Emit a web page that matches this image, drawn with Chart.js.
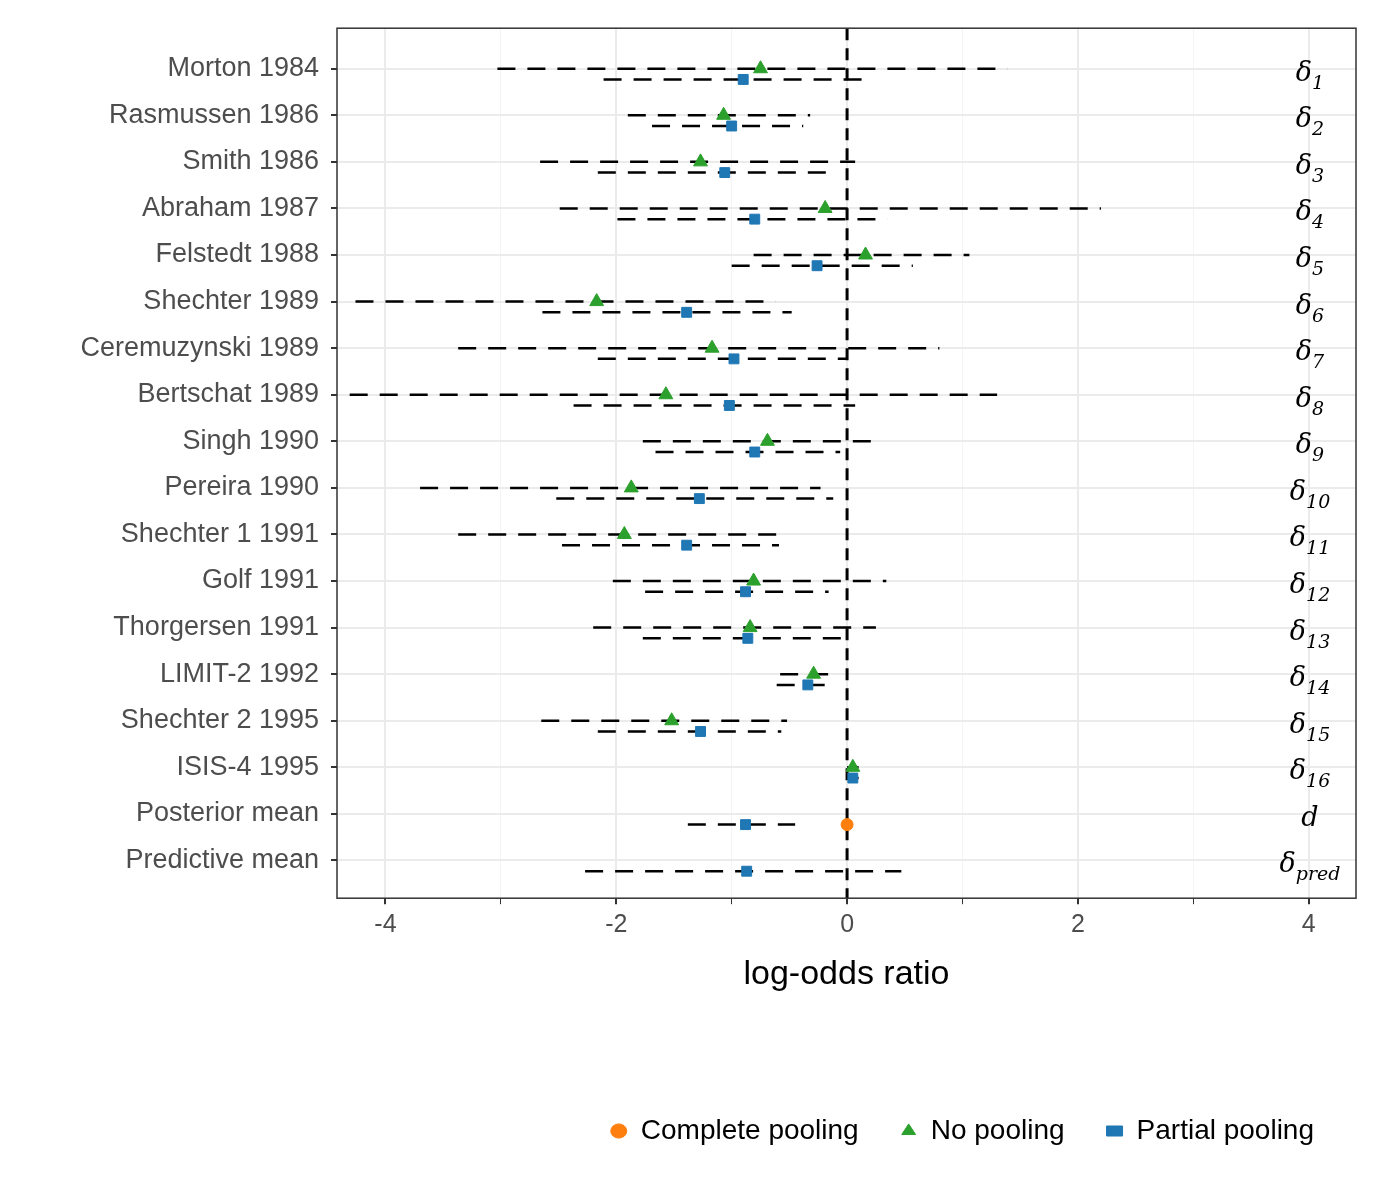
<!DOCTYPE html>
<html>
<head>
<meta charset="utf-8">
<style>
  body { margin: 0; background: #fff; }
</style>
<script src="https://cdn.jsdelivr.net/npm/chart.js@4"></script>
</head>
<body>
<canvas id="canvas" width="1380" height="1200"></canvas>
<script>
'use strict';

const studies = ['Morton 1984', 'Rasmussen 1986', 'Smith 1986', 'Abraham 1987', 'Felstedt 1988', 'Shechter 1989', 'Ceremuzynski 1989', 'Bertschat 1989', 'Singh 1990', 'Pereira 1990', 'Shechter 1 1991', 'Golf 1991', 'Thorgersen 1991', 'LIMIT-2 1992', 'Shechter 2 1995', 'ISIS-4 1995', 'Posterior mean', 'Predictive mean'];
const paramBase = ['δ', 'δ', 'δ', 'δ', 'δ', 'δ', 'δ', 'δ', 'δ', 'δ', 'δ', 'δ', 'δ', 'δ', 'δ', 'δ', 'd', 'δ'];
const paramSub = ['1', '2', '3', '4', '5', '6', '7', '8', '9', '10', '11', '12', '13', '14', '15', '16', '', 'pred'];

// no pooling (null where not shown)
const noPool = [-0.75, -1.07, -1.27, -0.19, 0.16, -2.17, -1.17, -1.57, -0.69, -1.87, -1.93, -0.81, -0.84, -0.29, -1.52, 0.05, null, null];
const noPoolLo = [-3.03, -1.90, -2.66, -2.49, -0.81, -4.26, -3.37, -4.31, -1.77, -3.70, -3.37, -2.03, -2.20, -0.58, -2.65, 0.00, null, null];
const noPoolHi = [1.39, -0.32, 0.07, 2.20, 1.06, -0.62, 0.80, 1.30, 0.26, -0.23, -0.61, 0.34, 0.25, -0.15, -0.52, 0.10, null, null];

// partial pooling
const partPool = [-0.90, -1.00, -1.06, -0.80, -0.26, -1.39, -0.98, -1.02, -0.80, -1.28, -1.39, -0.88, -0.86, -0.34, -1.27, 0.05, -0.88, -0.87];
const partPoolLo = [-2.11, -1.69, -2.16, -1.99, -1.00, -2.64, -2.16, -2.37, -1.66, -2.52, -2.47, -1.75, -1.77, -0.61, -2.16, 0.00, -1.38, -2.27];
const partPoolHi = [0.20, -0.38, -0.15, 0.35, 0.57, -0.48, 0.00, 0.07, -0.06, -0.12, -0.59, -0.16, 0.00, -0.13, -0.57, 0.10, -0.45, 0.47];

// complete pooling
const completePool = 0;
const completeRow = 17;

const partOffset = 0.23;

const noPoolData = [];
const partPoolData = [];
for (let i = 0; i < studies.length; i++) {
  if (noPool[i] !== null) noPoolData.push({x: noPool[i], y: i + 1});
  partPoolData.push({x: partPool[i], y: i + 1 + partOffset});
}

const extras = {
  id: 'extras',
  beforeDatasetsDraw(chart) {
    const ctx = chart.ctx;
    const xs = chart.scales.x;
    const ys = chart.scales.y;
    const area = chart.chartArea;
    ctx.save();
    ctx.strokeStyle = '#000';
    ctx.lineWidth = 2.5;
    ctx.setLineDash([18, 12]);
    for (let i = 0; i < studies.length; i++) {
      if (noPoolLo[i] !== null) {
        const y = ys.getPixelForValue(i + 1);
        ctx.beginPath();
        ctx.moveTo(xs.getPixelForValue(noPoolLo[i]), y);
        ctx.lineTo(xs.getPixelForValue(noPoolHi[i]), y);
        ctx.stroke();
      }
      const y2 = ys.getPixelForValue(i + 1 + partOffset);
      ctx.beginPath();
      ctx.moveTo(xs.getPixelForValue(partPoolLo[i]), y2);
      ctx.lineTo(xs.getPixelForValue(partPoolHi[i]), y2);
      ctx.stroke();
    }
    // zero line
    ctx.lineWidth = 3;
    ctx.setLineDash([12, 8]);
    const x0 = xs.getPixelForValue(0);
    ctx.beginPath();
    ctx.moveTo(x0, area.top);
    ctx.lineTo(x0, area.bottom);
    ctx.stroke();
    ctx.setLineDash([]);
    // parameter labels
    ctx.fillStyle = '#000';
    ctx.textBaseline = 'middle';
    for (let i = 0; i < studies.length; i++) {
      const y = ys.getPixelForValue(i + 1.15);
      ctx.font = 'italic 27px "DejaVu Serif"';
      const bw = ctx.measureText(paramBase[i]).width;
      ctx.font = 'italic 19px "DejaVu Serif"';
      const sw = paramSub[i] ? ctx.measureText(paramSub[i]).width : 0;
      const cx = 1310;
      const left = cx - (bw + sw) / 2;
      ctx.font = 'italic 27px "DejaVu Serif"';
      ctx.fillText(paramBase[i], left, y - 2);
      if (paramSub[i]) {
        ctx.font = 'italic 19px "DejaVu Serif"';
        ctx.fillText(paramSub[i], left + bw, y + 8);
      }
    }
    ctx.restore();
  },
  afterDraw(chart) {
    const ctx = chart.ctx;
    const area = chart.chartArea;
    ctx.save();
    ctx.strokeStyle = '#333';
    ctx.lineWidth = 1.5;
    ctx.strokeRect(area.left, area.top, area.right - area.left, area.bottom - area.top);
    ctx.restore();
  }
};

const ctx = document.getElementById('canvas').getContext('2d');
new Chart(ctx, {
  type: 'scatter',
  data: {
    datasets: [
      {
        label: 'Complete pooling',
        data: [{x: completePool, y: completeRow + partOffset}],
        backgroundColor: '#ff7f0e',
        borderColor: '#ff7f0e',
        pointStyle: 'circle',
        pointRadius: 6
      },
      {
        label: 'No pooling',
        data: noPoolData,
        backgroundColor: '#2ca02c',
        borderColor: '#2ca02c',
        pointStyle: 'triangle',
        pointRadius: 8
      },
      {
        label: 'Partial pooling',
        data: partPoolData,
        backgroundColor: '#1f77b4',
        borderColor: '#1f77b4',
        pointStyle: 'rect',
        pointRadius: 7
      }
    ]
  },
  options: {
    responsive: false,
    devicePixelRatio: 1,
    animation: false,
    layout: {padding: {top: 22, right: 24, left: 10, bottom: 45}},
    scales: {
      x: {
        type: 'linear',
        min: -4.42,
        max: 4.41,
        afterBuildTicks(axis) {
          axis.ticks = [-4, -3, -2, -1, 0, 1, 2, 3, 4].map(v => ({value: v}));
        },
        ticks: {
          color: '#4d4d4d',
          font: {family: 'Liberation Sans', size: 25},
          padding: 6,
          callback: v => (v % 2 === 0 ? String(v) : '')
        },
        grid: {
          color: c => (c.tick && c.tick.value % 2 === 0 ? '#ebebeb' : '#f4f4f4'),
          lineWidth: c => (c.tick && c.tick.value % 2 === 0 ? 2 : 1),
          tickColor: '#333',
          tickLength: 6
        },
        border: {display: false},
        title: {
          display: true,
          text: 'log-odds ratio',
          color: '#000',
          font: {family: 'Liberation Sans', size: 34},
          padding: {top: 8, bottom: 80}
        }
      },
      y: {
        type: 'linear',
        reverse: true,
        min: 0.13,
        max: 18.81,
        afterBuildTicks(axis) {
          const t = [];
          for (let i = 1; i <= studies.length; i++) t.push({value: i});
          axis.ticks = t;
        },
        afterFit(axis) { axis.width = 337 - 10; },
        ticks: {
          color: '#4d4d4d',
          font: {family: 'Liberation Sans', size: 27},
          padding: 12,
          callback: v => studies[v - 1] || ''
        },
        grid: {color: '#ebebeb', lineWidth: 2, tickColor: '#333', tickLength: 6},
        border: {display: false}
      }
    },
    plugins: {
      legend: {
        position: 'bottom',
        align: 'end',
        labels: {
          usePointStyle: true,
          pointStyleWidth: 16,
          boxHeight: 10,
          padding: 42,
          color: '#000',
          font: {family: 'Liberation Sans', size: 28}
        }
      },
      tooltip: {enabled: false}
    }
  },
  plugins: [extras]
});
</script>
</body>
</html>
